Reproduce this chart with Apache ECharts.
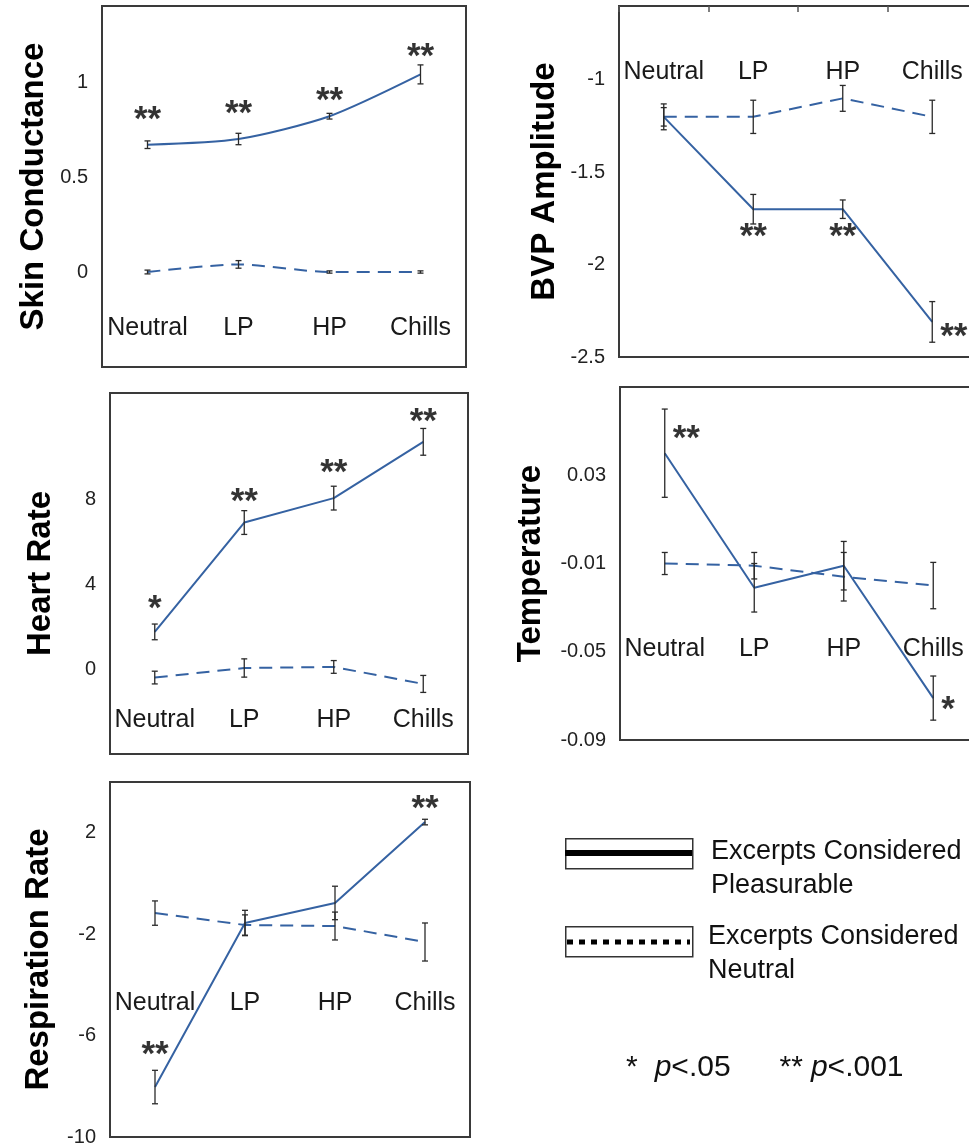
<!DOCTYPE html>
<html>
<head>
<meta charset="utf-8">
<script src="https://cdn.jsdelivr.net/npm/echarts@6.0.0/dist/echarts.min.js"></script>
<style>
html,body{margin:0;padding:0;background:#fff;}
#chart{width:969px;height:1146px;}
</style>
</head>
<body>
<div id="chart"></div>
<script>
// ---------------- DATA ----------------
const categories = ['Neutral', 'LP', 'HP', 'Chills'];

const skinPleasurable = [0.67, 0.70, 0.82, 1.04];
const skinPleasurableErr = [0.02, 0.03, 0.015, 0.05];
const skinNeutral = [0.00, 0.04, 0.00, 0.00];
const skinNeutralErr = [0.01, 0.02, 0.006, 0.006];
const skinTickLabels = ['0', '0.5', '1'];
const skinStars = [[0, 0.85, '**', 'center'], [1, 0.88, '**', 'center'], [2, 0.95, '**', 'center'], [3, 1.18, '**', 'center']];

const bvpPleasurable = [-1.20, -1.70, -1.70, -2.31];
const bvpPleasurableErr = [0.07, 0.08, 0.05, 0.11];
const bvpNeutral = [-1.20, -1.20, -1.10, -1.20];
const bvpNeutralErr = [0.05, 0.09, 0.07, 0.09];
const bvpTickLabels = ['-2.5', '-2', '-1.5', '-1'];
const bvpStars = [[1, -1.80, '**', 'center'], [2, -1.80, '**', 'center'], [3, -2.34, '**', 'right']];

const heartPleasurable = [1.75, 6.9, 8.05, 10.7];
const heartPleasurableErr = [0.37, 0.56, 0.56, 0.63];
const heartNeutral = [-0.40, 0.05, 0.10, -0.70];
const heartNeutralErr = [0.30, 0.43, 0.30, 0.40];
const heartTickLabels = ['0', '4', '8'];
const heartStars = [[0, 3.3, '*', 'center'], [1, 8.3, '**', 'center'], [2, 9.7, '**', 'center'], [3, 12.1, '**', 'center']];

const tempPleasurable = [0.040, -0.021, -0.011, -0.071];
const tempPleasurableErr = [0.020, 0.011, 0.011, 0.010];
const tempNeutral = [-0.010, -0.011, -0.016, -0.020];
const tempNeutralErr = [0.005, 0.006, 0.011, 0.0105];
const tempTickLabels = ['-0.09', '-0.05', '-0.01', '0.03'];
const tempStars = [[0, 0.051, '**', 'right'], [3, -0.072, '*', 'right']];

const respPleasurable = [-8.03, -1.56, -0.77, 2.42];
const respPleasurableErr = [0.66, 0.50, 0.66, 0.11];
const respNeutral = [-1.17, -1.64, -1.68, -2.31];
const respNeutralErr = [0.48, 0.40, 0.55, 0.75];
const respTickLabels = ['-10', '-6', '-2', '2'];
const respStars = [[3, 3.3, '**', 'center'], [0, -6.4, '**', 'center']];

const legendPleasurable = ['Excerpts Considered', 'Pleasurable'];
const legendNeutral = ['Excerpts Considered', 'Neutral'];

// ---------------- LAYOUT / STYLE ----------------
const FONT = 'Liberation Sans, Arial, Helvetica, sans-serif';
const LINE_COLOR = '#3562a2';
const ERR_COLOR = '#2a2a2a';

const panels = [
  {title: 'Skin Conductance', pl: skinPleasurable, ple: skinPleasurableErr, ne: skinNeutral, nee: skinNeutralErr,
   ticks: skinTickLabels, stars: skinStars, grid: {left: 102, top: 6, width: 364, height: 361},
   min: -0.5, max: 1.4, interval: 0.5, labelLevel: -0.295, nameGap: 52, smooth: 0.25},
  {title: 'BVP Amplitude', pl: bvpPleasurable, ple: bvpPleasurableErr, ne: bvpNeutral, nee: bvpNeutralErr,
   ticks: bvpTickLabels, stars: bvpStars, grid: {left: 619, top: 6, width: 358, height: 351},
   min: -2.5, max: -0.6, interval: 0.5, labelLevel: -0.957, nameGap: 58, smooth: false, topTicks: true},
  {title: 'Heart Rate', pl: heartPleasurable, ple: heartPleasurableErr, ne: heartNeutral, nee: heartNeutralErr,
   ticks: heartTickLabels, stars: heartStars, grid: {left: 110, top: 393, width: 358, height: 361},
   min: -4, max: 13, interval: 4, labelLevel: -2.4, nameGap: 53, smooth: false},
  {title: 'Temperature', pl: tempPleasurable, ple: tempPleasurableErr, ne: tempNeutral, nee: tempNeutralErr,
   ticks: tempTickLabels, stars: tempStars, grid: {left: 620, top: 387, width: 358, height: 353},
   min: -0.09, max: 0.07, interval: 0.04, labelLevel: -0.0488, nameGap: 73, smooth: false},
  {title: 'Respiration Rate', pl: respPleasurable, ple: respPleasurableErr, ne: respNeutral, nee: respNeutralErr,
   ticks: respTickLabels, stars: respStars, grid: {left: 110, top: 782, width: 360, height: 355},
   min: -10, max: 4, interval: 4, labelLevel: -4.71, nameGap: 55, smooth: false}
];

function renderErr(params, api) {
  const x = api.value(0), v = api.value(1), e = api.value(2);
  const hi = api.coord([x, v + e]);
  const lo = api.coord([x, v - e]);
  const w = 3;
  const style = {stroke: ERR_COLOR, lineWidth: 1.3, fill: null};
  return {
    type: 'group',
    children: [
      {type: 'line', shape: {x1: hi[0], y1: hi[1], x2: lo[0], y2: lo[1]}, style: style},
      {type: 'line', shape: {x1: hi[0] - w, y1: hi[1], x2: hi[0] + w, y2: hi[1]}, style: style},
      {type: 'line', shape: {x1: lo[0] - w, y1: lo[1], x2: lo[0] + w, y2: lo[1]}, style: style}
    ]
  };
}

const grid = [], xAxis = [], yAxis = [], series = [];
panels.forEach(function (p, i) {
  grid.push(Object.assign({show: true, borderColor: '#3a3a3a', borderWidth: 2, backgroundColor: 'transparent',
    containLabel: false, outerBoundsMode: 'none'}, p.grid));
  const labelY = p.grid.top + (p.max - p.labelLevel) / (p.max - p.min) * p.grid.height;
  const offset = labelY - (p.grid.top + p.grid.height);
  xAxis.push({
    type: 'category', gridIndex: i, data: categories, position: 'bottom', offset: offset, boundaryGap: true,
    axisLine: {show: false}, axisTick: {show: false}, splitLine: {show: false},
    axisLabel: {fontSize: 25, color: '#1a1a1a', margin: 0, verticalAlign: 'middle', interval: 0, fontFamily: FONT}
  });
  const ticks = p.ticks, tol = p.interval * 0.01;
  yAxis.push({
    type: 'value', gridIndex: i, min: p.min, max: p.max, interval: p.interval,
    axisLine: {show: false}, axisTick: {show: false}, splitLine: {show: false},
    axisLabel: {fontSize: 20, color: '#222', margin: 14, fontFamily: FONT, showMaxLabel: true, showMinLabel: true,
      formatter: function (v) {
        for (let k = 0; k < ticks.length; k++) { if (Math.abs(Number(ticks[k]) - v) < tol) return ticks[k]; }
        return '';
      }},
    name: p.title, nameLocation: 'middle', nameGap: p.nameGap, nameMoveOverlap: false,
    nameTextStyle: {fontSize: 33, fontWeight: 'bold', color: '#000', fontFamily: FONT}
  });
  series.push({
    type: 'line', xAxisIndex: i, yAxisIndex: i, data: p.ne, symbol: 'none', smooth: p.smooth,
    lineStyle: {color: LINE_COLOR, width: 2, type: [13, 8]}, z: 3, silent: true
  });
  series.push({
    type: 'line', xAxisIndex: i, yAxisIndex: i, data: p.pl, symbol: 'none', smooth: p.smooth,
    lineStyle: {color: LINE_COLOR, width: 2, type: 'solid'}, z: 3, silent: true
  });
  series.push({
    type: 'custom', xAxisIndex: i, yAxisIndex: i, renderItem: renderErr, z: 4, silent: true,
    data: p.ne.map(function (v, k) { return [k, v, p.nee[k]]; })
  });
  series.push({
    type: 'custom', xAxisIndex: i, yAxisIndex: i, renderItem: renderErr, z: 4, silent: true,
    data: p.pl.map(function (v, k) { return [k, v, p.ple[k]]; })
  });
  series.push({
    type: 'scatter', xAxisIndex: i, yAxisIndex: i, symbolSize: 0, z: 5, silent: true,
    data: p.stars.map(function (s) {
      return {value: [s[0], s[1]], label: {show: true, formatter: s[2],
        position: s[3] === 'right' ? 'right' : 'inside', distance: 8, offset: [0, 10],
        fontSize: 35, fontWeight: 'bold', color: '#000', fontFamily: FONT}};
    })
  });
});
// tick marks along the top edge of the BVP panel
panels.forEach(function (p, i) {
  if (p.topTicks) {
    xAxis.push({
      type: 'category', gridIndex: i, data: categories, position: 'top', boundaryGap: true,
      axisLine: {show: false}, axisLabel: {show: false}, splitLine: {show: false},
      axisTick: {show: true, inside: true, length: 6, lineStyle: {color: '#555', width: 1.5}}
    });
  }
});

const legendX = 565, legendW = 127, legendH = 30;
const graphic = [
  {type: 'rect', left: legendX, top: 838, shape: {width: legendW, height: legendH},
   style: {fill: '#fff', stroke: '#333', lineWidth: 1.5}},
  {type: 'line', shape: {x1: legendX, y1: 853, x2: legendX + legendW, y2: 853},
   style: {stroke: '#000', lineWidth: 6}},
  {type: 'text', left: 711, top: 835,
   style: {text: legendPleasurable.join('\n'), fontSize: 27, lineHeight: 34, fill: '#111', fontFamily: FONT}},
  {type: 'rect', left: legendX, top: 926, shape: {width: legendW, height: legendH},
   style: {fill: '#fff', stroke: '#333', lineWidth: 1.5}},
  {type: 'line', shape: {x1: legendX + 2, y1: 942, x2: legendX + legendW - 2, y2: 942},
   style: {stroke: '#000', lineWidth: 5, lineDash: [6, 6]}},
  {type: 'text', left: 708, top: 920,
   style: {text: legendNeutral.join('\n'), fontSize: 27, lineHeight: 34, fill: '#111', fontFamily: FONT}},
  {type: 'text', left: 626, top: 1053,
   style: {
     text: '{a|*}{s1|}{i|p}{a|<.05}{s2|}{a|**}{s3|}{i|p}{a|<.001}',
     rich: {
       a: {fontSize: 30, fill: '#111', fontFamily: FONT},
       i: {fontSize: 30, fill: '#111', fontStyle: 'italic', fontFamily: FONT},
       s1: {width: 17}, s2: {width: 49}, s3: {width: 8}
     }
   }}
];

const chart = echarts.init(document.getElementById('chart'), null, {renderer: 'canvas'});
chart.setOption({
  animation: false,
  backgroundColor: '#fff',
  textStyle: {fontFamily: FONT},
  grid: grid, xAxis: xAxis, yAxis: yAxis, series: series, graphic: graphic
});
</script>
</body>
</html>
